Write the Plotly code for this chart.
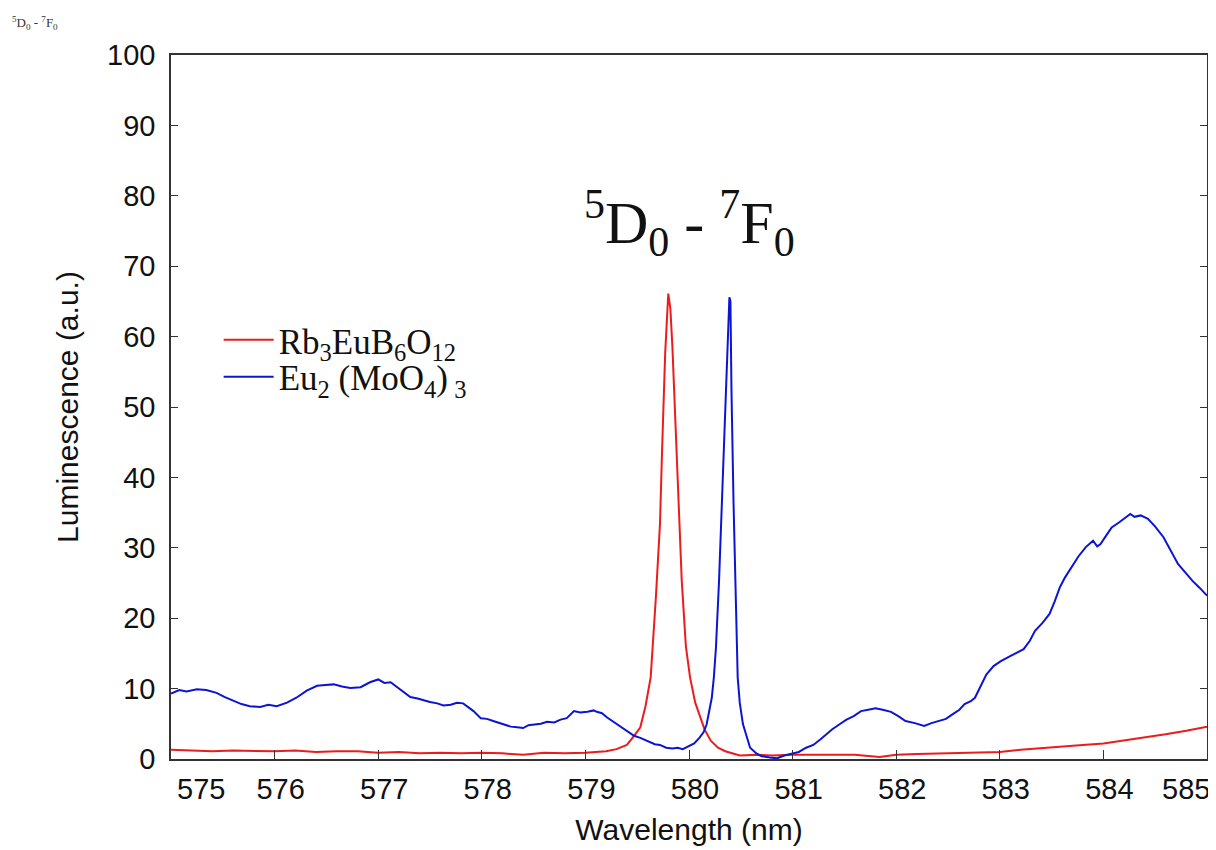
import plotly.graph_objects as go

# Eu2(MoO4)3 (blue)
blue_x = [575.00, 575.08, 575.15, 575.25, 575.34, 575.44, 575.52, 575.60, 575.68, 575.76,
          575.86, 575.94, 576.02, 576.12, 576.21, 576.31, 576.41, 576.49, 576.57, 576.65,
          576.73, 576.83, 576.92, 577.00, 577.06, 577.12, 577.21, 577.31, 577.38, 577.44,
          577.50, 577.57, 577.63, 577.70, 577.76, 577.82, 577.92, 577.99, 578.05, 578.11,
          578.20, 578.28, 578.34, 578.40, 578.45, 578.50, 578.57, 578.63, 578.70, 578.76,
          578.82, 578.89, 578.95, 579.02, 579.08, 579.11, 579.16, 579.21, 579.28, 579.34,
          579.40, 579.47, 579.53, 579.60, 579.67, 579.72, 579.78, 579.84, 579.89, 579.94,
          579.99, 580.05, 580.10, 580.14, 580.17, 580.20, 580.22, 580.24, 580.26, 580.29,
          580.32, 580.35, 580.37, 580.39, 580.40, 580.41, 580.43, 580.45, 580.47, 580.49,
          580.52, 580.54, 580.59, 580.65, 580.70, 580.78, 580.85, 580.92, 580.99, 581.06,
          581.13, 581.20, 581.27, 581.33, 581.38, 581.45, 581.52, 581.59, 581.66, 581.73,
          581.80, 581.87, 581.95, 582.02, 582.09, 582.18, 582.27, 582.34, 582.41, 582.48,
          582.55, 582.61, 582.66, 582.72, 582.76, 582.82, 582.87, 582.94, 583.01, 583.10,
          583.17, 583.23, 583.29, 583.34, 583.41, 583.48, 583.53, 583.58, 583.63, 583.69,
          583.76, 583.83, 583.90, 583.94, 583.97, 584.03, 584.08, 584.15, 584.21, 584.26,
          584.30, 584.36, 584.43, 584.50, 584.58, 584.65, 584.72, 584.79, 584.86, 584.93,
          585.00]
blue_y = [9.3, 9.8, 9.6, 9.9, 9.8, 9.4, 8.8, 8.3, 7.8, 7.5,
          7.4, 7.7, 7.5, 8.0, 8.7, 9.7, 10.4, 10.5, 10.6, 10.3,
          10.1, 10.2, 10.9, 11.3, 10.8, 10.9, 9.9, 8.8, 8.6, 8.3,
          8.1, 7.9, 7.6, 7.7, 8.0, 7.9, 6.8, 5.8, 5.7, 5.4,
          5.0, 4.6, 4.5, 4.4, 4.8, 4.9, 5.0, 5.3, 5.2, 5.6,
          5.8, 6.8, 6.6, 6.7, 6.9, 6.7, 6.5, 5.9, 5.2, 4.6,
          4.0, 3.3, 3.0, 2.6, 2.1, 2.0, 1.6, 1.5, 1.6, 1.4,
          1.8, 2.2, 3.0, 3.8, 4.9, 7.0, 8.7, 11.6, 15.8, 25.3,
          37.2, 49.0, 58.0, 65.6, 65.0, 52.3, 36.3, 22.9, 11.6, 8.0,
          5.0, 4.0, 1.6, 0.8, 0.4, 0.2, 0.1, 0.5, 0.7, 1.0,
          1.6, 2.0, 2.8, 3.6, 4.2, 4.9, 5.6, 6.1, 6.8, 7.0,
          7.2, 7.0, 6.7, 6.1, 5.4, 5.1, 4.7, 5.1, 5.4, 5.7,
          6.4, 7.0, 7.8, 8.2, 8.7, 10.5, 12.0, 13.2, 13.9, 14.6,
          15.1, 15.6, 16.8, 18.2, 19.3, 20.6, 22.4, 24.4, 25.8, 27.2,
          28.8, 30.1, 31.0, 30.2, 30.5, 31.8, 32.9, 33.6, 34.2, 34.8,
          34.4, 34.6, 34.1, 33.0, 31.5, 29.5, 27.7, 26.5, 25.3, 24.3,
          23.2]

# Rb3EuB6O12 (red)
red_x = [575.00, 575.20, 575.40, 575.60, 575.80, 576.00, 576.20, 576.40, 576.60, 576.80,
         577.00, 577.20, 577.40, 577.60, 577.80, 578.00, 578.20, 578.40, 578.60, 578.80,
         579.00, 579.20, 579.30, 579.40, 579.47, 579.53, 579.58, 579.63, 579.68, 579.72,
         579.74, 579.77, 579.80, 579.82, 579.84, 579.87, 579.90, 579.93, 579.97, 580.01,
         580.06, 580.10, 580.15, 580.21, 580.28, 580.35, 580.49, 580.65, 580.80, 581.00,
         581.20, 581.40, 581.60, 581.84, 582.00, 582.20, 582.40, 582.60, 582.80, 583.00,
         583.20, 583.43, 583.60, 583.80, 584.00, 584.20, 584.40, 584.60, 584.80, 585.00]
red_y = [1.3, 1.2, 1.1, 1.2, 1.1, 1.1, 1.2, 1.0, 1.1, 1.1,
         0.9, 1.0, 0.8, 0.9, 0.8, 0.9, 0.8, 0.6, 0.9, 0.8,
         0.9, 1.1, 1.4, 2.0, 3.3, 4.5, 7.5, 11.6, 22.9, 33.4,
         43.8, 57.6, 66.1, 64.0, 58.5, 46.7, 34.8, 25.3, 16.0, 11.6,
         8.0, 6.4, 4.2, 2.6, 1.6, 1.1, 0.5, 0.6, 0.5, 0.6,
         0.6, 0.5, 0.6, 0.3, 0.6, 0.7, 0.8, 0.8, 0.9, 1.0,
         1.3, 1.6, 1.8, 2.0, 2.2, 2.6, 3.0, 3.5, 4.0, 4.6]

x_ticks = [575, 576, 577, 578, 579, 580, 581, 582, 583, 584, 585]
y_ticks = [0, 10, 20, 30, 40, 50, 60, 70, 80, 90, 100]

series_names = ["Rb<sub>3</sub>EuB<sub>6</sub>O<sub>12</sub>",
                "Eu<sub>2</sub> (MoO<sub>4</sub>)<sub> 3</sub>"]
title_text = "<sup>5</sup>D<sub>0</sub> - <sup>7</sup>F<sub>0</sub>"

AX = "#333333"
SANS = "Liberation Sans, Arial, sans-serif"
SERIF = "Liberation Serif, Times New Roman, serif"

fig = go.Figure()
fig.add_trace(go.Scatter(x=red_x, y=red_y, mode="lines", name=series_names[0],
                         line=dict(color="#ec1c1c", width=2), legend="legend"))
fig.add_trace(go.Scatter(x=blue_x, y=blue_y, mode="lines", name=series_names[1],
                         line=dict(color="#0c14d4", width=2), legend="legend2"))

inner_ticks = x_ticks[1:-1]
fig.update_xaxes(range=[x_ticks[0], x_ticks[-1]], tickvals=x_ticks,
                 ticktext=[""] + [str(v) for v in inner_ticks] + [""],
                 ticks="inside", ticklen=9, tickcolor=AX, tickwidth=1.2,
                 showline=True, linecolor=AX, linewidth=1.5, mirror=True,
                 showgrid=False, zeroline=False, automargin=False,
                 ticklabelshift=6, ticklabelstandoff=3,
                 tickfont=dict(family=SANS, size=29, color="#111"),
                 title=dict(text="Wavelength (nm)", font=dict(family=SANS, size=30, color="#111"),
                            standoff=15))
fig.update_yaxes(range=[y_ticks[0], y_ticks[-1]], tickvals=y_ticks,
                 ticks="inside", ticklen=7, tickcolor=AX, tickwidth=1.2,
                 showline=True, linecolor=AX, linewidth=1.5, mirror="ticks",
                 showgrid=False, zeroline=False, automargin=False, ticklabelstandoff=8,
                 tickfont=dict(family=SANS, size=29, color="#111"),
                 title=dict(text="Luminescence (a.u.)", font=dict(family=SANS, size=30, color="#111"),
                            standoff=20))

# end tick labels drawn slightly inward as in the reference
for xv, shift in ((x_ticks[0], 0.29), (x_ticks[-1], -0.20)):
    fig.add_annotation(x=xv + shift, y=0, xref="x", yref="y", text=str(xv), showarrow=False,
                       yanchor="top", yshift=-12, font=dict(family=SANS, size=29, color="#111"))

fig.add_annotation(x=0.5, y=0.824, xref="paper", yref="paper", text=title_text,
                   showarrow=False, font=dict(family=SERIF, size=60, color="#111"))
fig.add_annotation(x=-0.1554, y=1.061, xref="paper", yref="paper", text=title_text,
                   showarrow=False, xanchor="left",
                   font=dict(family=SERIF, size=13, color="#333"))

leg_common = dict(xanchor="left", yanchor="middle", bgcolor="rgba(0,0,0,0)",
                  itemwidth=50, font=dict(family=SERIF, size=35, color="#111"))
fig.update_layout(width=1208, height=842, paper_bgcolor="white", plot_bgcolor="white",
                  margin=dict(l=163, r=9, t=47, b=91, autoexpand=False),
                  legend=dict(x=0.046, y=0.595, **leg_common),
                  legend2=dict(x=0.046, y=0.5426, **leg_common),
                  showlegend=True)

fig.write_html("out.html")
